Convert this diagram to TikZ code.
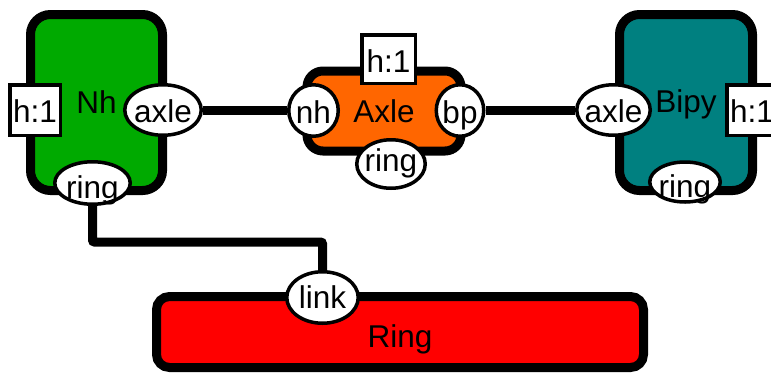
\documentclass[tikz,border=0pt]{standalone}
\usepackage{fontspec}
\setmainfont{Liberation Sans}
\usetikzlibrary{shapes.geometric}
\newcommand\ptxt[2]{\makebox[0pt]{\raisebox{-#1}[0pt][0pt]{#2}}}
\newcommand\dgfont{\fontsize{31.5}{36}\selectfont}
\definecolor{nhgreen}{HTML}{00AA00}
\definecolor{axleorange}{HTML}{FF6600}
\definecolor{bipyteal}{HTML}{008080}
\definecolor{ringred}{HTML}{FF0000}
\begin{document}
\begin{tikzpicture}[x=1pt,y=-1pt,
  block/.style={rectangle, draw, line width=9pt, inner sep=0pt, font=\dgfont},
  port/.style={ellipse, draw, fill=white, line width=3.5pt, inner sep=0pt, font=\dgfont},
  tagbox/.style={rectangle, draw, fill=white, line width=3.5pt, inner sep=0pt, font=\dgfont},
  wire/.style={draw, line width=9pt, rounded corners=2pt}]
\clip (0,0) rectangle (771,373);
% blocks
\node[block, fill=nhgreen, rounded corners=20pt, minimum width=132pt, minimum height=176pt] (nhb) at (96.5,102.5) {\ptxt{10.5pt}{Nh}};
\node[block, fill=bipyteal, rounded corners=20pt, minimum width=133pt, minimum height=176pt] (bipyb) at (686,102.5) {\ptxt{9.5pt}{Bipy}};
\node[block, fill=axleorange, rounded corners=16pt, minimum width=154pt, minimum height=80pt] (axleb) at (384,111) {\ptxt{11pt}{Axle}};
\node[block, fill=ringred, rounded corners=13pt, minimum width=487pt, minimum height=71pt] (ringb) at (400,332) {\ptxt{15pt}{Ring}};
% tags
\node[tagbox, minimum width=50.5pt, minimum height=50.5pt] (nhtag) at (35,110) {\ptxt{12pt}{h:1}};
\node[tagbox, minimum width=53.5pt, minimum height=48.5pt] (axletag) at (388.5,59) {\ptxt{13pt}{h:1}};
\node[tagbox, minimum width=50.5pt, minimum height=50.5pt] (bipytag) at (752,110) {\ptxt{12pt}{h:1}};
% ports
\node[port, minimum width=76.5pt, minimum height=50.5pt] (nhaxle) at (163,110) {\ptxt{12pt}{axle}};
\node[port, minimum width=75.5pt, minimum height=42.5pt] (nhring) at (92.5,183) {\ptxt{15pt}{ring}};
\node[port, minimum width=49.5pt, minimum height=51.5pt] (axlenh) at (313.5,110.5) {\ptxt{12.5pt}{nh}};
\node[port, minimum width=47.5pt, minimum height=51.5pt] (axlebp) at (460,110.5) {\ptxt{12.5pt}{bp}};
\node[port, minimum width=68.5pt, minimum height=48.5pt] (axlering) at (391,164) {\ptxt{7pt}{ring}};
\node[port, minimum width=73.5pt, minimum height=50.5pt] (bipyaxle) at (613.5,110) {\ptxt{12pt}{axle}};
\node[port, minimum width=70.5pt, minimum height=40pt] (bipyring) at (685,182) {\ptxt{15pt}{ring}};
\node[port, minimum width=71.5pt, minimum height=51.5pt] (ringlink) at (322.5,297.5) {\ptxt{10.5pt}{link}};
% connectors
\coordinate (jog) at (0,242);
\path[wire] (nhaxle.east) -- (nhaxle.east -| axlenh.west);
\path[wire] (axlebp.east) -- (axlebp.east -| bipyaxle.west);
\path[wire] (nhring.south) |- (jog -| ringlink.north) -- (ringlink.north);
\end{tikzpicture}
\end{document}
